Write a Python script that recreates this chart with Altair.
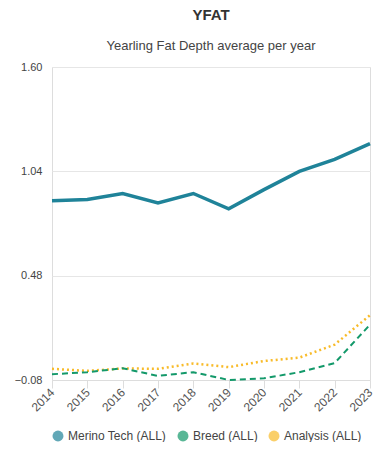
import altair as alt
import pandas as pd

years = [2014, 2015, 2016, 2017, 2018, 2019, 2020, 2021, 2022, 2023]
merino = [0.882, 0.889, 0.921, 0.871, 0.921, 0.839, 0.942, 1.040, 1.104, 1.189]
breed = [-0.049, -0.038, -0.017, -0.058, -0.038, -0.080, -0.071, -0.038, 0.011, 0.217]
analysis = [-0.020, -0.031, -0.018, -0.020, 0.009, -0.011, 0.022, 0.040, 0.110, 0.268]

series = ["Merino Tech (ALL)", "Breed (ALL)", "Analysis (ALL)"]
colors = ["#1f8399", "#13996a", "#f8bb2a"]

rows = []
for name, vals in zip(series, [merino, breed, analysis]):
    for y, v in zip(years, vals):
        rows.append({"year": y, "value": v, "series": name})
df = pd.DataFrame(rows)

font = "Liberation Sans"

x = alt.X("year:Q", title=None,
          scale=alt.Scale(domain=[2014, 2023], nice=False, zero=False),
          axis=alt.Axis(values=years, format="d", labelAngle=-45, labelAlign="right",
                        labelBaseline="middle", labelFontSize=12, labelColor="#555",
                        labelFont=font, domain=True, domainColor="#ddd",
                        tickColor="#ddd", tickSize=8, grid=False, labelPadding=2))
y = alt.Y("value:Q", title=None,
          scale=alt.Scale(domain=[-0.08, 1.6], nice=False, zero=False),
          axis=alt.Axis(values=[-0.08, 0.48, 1.04, 1.6], format=".2f", domain=False,
                        ticks=False, labelFontSize=11, labelColor="#444",
                        labelFont=font, gridColor="#e6e6e6", labelPadding=10))
legend = alt.Legend(orient="bottom", direction="horizontal", symbolType="circle",
                    symbolSize=120, symbolStrokeWidth=0, labelFontSize=12,
                    labelColor="#444", labelFont=font, columnPadding=10, offset=16)
color = alt.Color("series:N", title=None,
                  scale=alt.Scale(domain=series, range=colors), legend=legend)

base = alt.Chart(df)
# helper layer for the filled legend circles: points lie below the y domain and are clipped
pts = base.transform_calculate(value="-1").mark_point(
    filled=True, clip=True).encode(x=x, y=y, color=color)
l1 = base.transform_filter(alt.datum.series == series[0]).mark_line(
    strokeWidth=3.5).encode(x=x, y=y, color=color)
l2 = base.transform_filter(alt.datum.series == series[1]).mark_line(
    strokeWidth=2, strokeDash=[6, 4]).encode(x=x, y=y, color=color)
l3 = base.transform_filter(alt.datum.series == series[2]).mark_line(
    strokeWidth=2.5, strokeDash=[2, 3]).encode(x=x, y=y, color=color)

chart = alt.layer(pts, l3, l2, l1).properties(
    width=371, height=434,
    autosize=alt.AutoSizeParams(type="fit", contains="padding"),
    title=alt.TitleParams("YFAT", subtitle="Yearling Fat Depth average per year",
                          fontSize=15, fontWeight="bold", color="#333", font=font,
                          subtitleFontSize=13, subtitleColor="#444", subtitleFont=font,
                          subtitlePadding=17, offset=8, anchor="middle"),
).configure_view(strokeWidth=0).configure(
    padding={"left": 6, "right": 2, "top": 0, "bottom": 0})

chart.save("out.html", embed_options={"renderer": "svg", "actions": False})
